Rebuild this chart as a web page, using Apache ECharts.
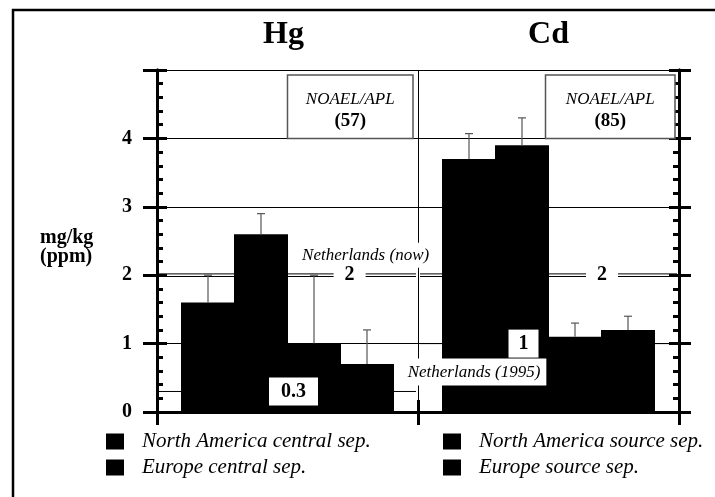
<!DOCTYPE html>
<html><head><meta charset="utf-8">
<script src="https://cdn.jsdelivr.net/npm/echarts@6/dist/echarts.min.js"></script>
<style>html,body{margin:0;padding:0;background:#fff}#c{width:715px;height:497px}</style>
</head><body><div id="c"></div>
<script>
// ---- data ----
const categories = ['Hg', 'Cd'];
const seriesNames = ['North America central sep.', 'Europe central sep.', 'North America source sep.', 'Europe source sep.'];
const naCentral = [1.6, 3.7];
const euCentral = [2.6, 3.9];
const naSource = [1.0, 1.1];
const euSource = [0.7, 1.2];
const naCentralErr = [2.0, 4.07];
const euCentralErr = [2.9, 4.3];
const naSourceErr = [2.0, 1.3];
const euSourceErr = [1.2, 1.4];
const noaelApl = [57, 85];
const nlNow = [2, 2];
const nl1995 = [0.3, 1];
const yTickLabels = ['0', '1', '2', '3', '4', ''];
const yUnit = 'mg/kg\n(ppm)';

// ---- style / layout ----
const FONT = "'Liberation Serif','Times New Roman',serif";
const BAR_STEP = 53;
const L = { boxDx: [0, -3], boxInset: [5, 4], nowFrac: [0.738, 0.705], lowDx: [6, -25] };

const values = [naCentral, euCentral, naSource, euSource];
const errs = [naCentralErr, euCentralErr, naSourceErr, euSourceErr];
const errData = [];
values.forEach((arr, s) => arr.forEach((v, i) => errData.push([i, s, v, errs[s][i]])));
const lineData = categories.map((c, i) => [i, nlNow[i], nl1995[i]]);
const annData = categories.map((c, i) => [i, noaelApl[i], nlNow[i], nl1995[i]]);

const chart = echarts.init(document.getElementById('c'), null, { renderer: 'canvas' });

function xAxisCfg(pos, inside, len, extra) {
  return Object.assign({
    type: 'category', position: pos, data: categories,
    axisLine: { show: true, lineStyle: { color: '#000', width: 3 } },
    axisTick: { show: true, inside: inside, length: len, lineStyle: { color: '#000', width: 3 } },
    axisLabel: { show: false }, splitLine: { show: false }
  }, extra || {});
}
function yAxisCfg(pos, inside, len, extra) {
  return Object.assign({
    type: 'value', position: pos, min: 0, max: 5, interval: 1,
    axisLine: { show: true, lineStyle: { color: '#000', width: 3 } },
    axisTick: { show: true, inside: inside, length: len, lineStyle: { color: '#000', width: 3 } },
    axisLabel: { show: false }, splitLine: { show: false }
  }, extra || {});
}

// bars are 1px wider than their step and overlap by 1px so adjacent black bars merge
const series = seriesNames.map((n, s) => ({
  name: n, type: 'bar', data: values[s], xAxisIndex: 0, yAxisIndex: 0,
  barWidth: BAR_STEP + 1, barGap: (-100 / (BAR_STEP + 1)).toFixed(3) + '%',
  itemStyle: { color: '#000' }, z: 3
}));

series.push({
  type: 'custom', name: 'limits', z: 1, xAxisIndex: 0, yAxisIndex: 0, silent: true,
  encode: { x: 0, y: 1 },
  data: lineData,
  renderItem: function (params, api) {
    const i = api.value(0);
    const w = api.size([1, 0])[0];
    const cN = api.coord([i, api.value(1)]);
    const c95 = api.coord([i, api.value(2)]);
    const x1 = cN[0] - w / 2 + 2, x2 = cN[0] + w / 2 - 2;
    const st = { stroke: '#000', lineWidth: 1 };
    return { type: 'group', children: [
      { type: 'line', shape: { x1: x1, y1: cN[1] - 1.3, x2: x2, y2: cN[1] - 1.3 }, style: st },
      { type: 'line', shape: { x1: x1, y1: cN[1] + 1.3, x2: x2, y2: cN[1] + 1.3 }, style: st },
      { type: 'line', shape: { x1: x1, y1: c95[1], x2: x2, y2: c95[1] }, style: st }
    ]};
  }
});

series.push({
  type: 'custom', name: 'err', z: 5, xAxisIndex: 0, yAxisIndex: 0, silent: true,
  encode: { x: 0, y: 3 },
  data: errData,
  renderItem: function (params, api) {
    const i = api.value(0), s = api.value(1);
    const b = api.coord([i, api.value(2)]);
    const t = api.coord([i, api.value(3)]);
    const x = b[0] + (s - 1.5) * BAR_STEP;
    const st = { stroke: '#555', lineWidth: 1.2 };
    return { type: 'group', children: [
      { type: 'line', shape: { x1: x, y1: b[1], x2: x, y2: t[1] }, style: st },
      { type: 'line', shape: { x1: x - 4, y1: t[1], x2: x + 4, y2: t[1] }, style: st }
    ]};
  }
});

series.push({
  type: 'custom', name: 'ann', z: 10, xAxisIndex: 0, yAxisIndex: 0, silent: true,
  encode: { x: 0, y: 2 },
  data: annData,
  renderItem: function (params, api) {
    const i = api.value(0);
    const w = api.size([1, 0])[0];
    const cx = api.coord([i, 0])[0];
    const y5 = api.coord([i, 5])[1];
    const y4 = api.coord([i, 4])[1];
    const yNow = api.coord([i, api.value(2)])[1];
    const y95 = api.coord([i, api.value(3)])[1];
    const bx1 = cx + L.boxDx[i], bx2 = cx + w / 2 - L.boxInset[i];
    const bcx = (bx1 + bx2) / 2;
    const nowX = cx - w / 2 + L.nowFrac[i] * w;
    const lowX = cx + L.lowDx[i];
    const ch = [
      { type: 'rect', shape: { x: bx1, y: y5 + 5, width: bx2 - bx1, height: y4 - y5 - 5 },
        style: { fill: '#fff', stroke: '#555', lineWidth: 1.5 } },
      { type: 'text', style: { text: 'NOAEL/APL', x: bcx, y: y5 + 30, align: 'center', verticalAlign: 'middle',
        font: 'italic 17px ' + FONT, fill: '#000' } },
      { type: 'text', style: { text: '(' + api.value(1) + ')', x: bcx, y: y5 + 51, align: 'center', verticalAlign: 'middle',
        font: 'bold 19px ' + FONT, fill: '#000' } }
    ];
    if (i === 0) {
      ch.push({ type: 'text', style: { text: 'Netherlands (now)', x: nowX + 16, y: yNow - 20, align: 'center', verticalAlign: 'middle',
        font: 'italic 17px ' + FONT, fill: '#000', backgroundColor: '#fff', padding: [4, 6] } });
    } else {
      ch.push({ type: 'text', style: { text: 'Netherlands (1995)', x: lowX - 49.5, y: y95 + 28.5, align: 'center', verticalAlign: 'middle',
        font: 'italic 17px ' + FONT, fill: '#000', backgroundColor: '#fff', padding: [5, 6] } });
    }
    ch.push(
      { type: 'text', style: { text: String(api.value(2)), x: nowX, y: yNow, align: 'center', verticalAlign: 'middle',
        font: 'bold 20px ' + FONT, fill: '#000', backgroundColor: '#fff', padding: [1, 11] } },
      { type: 'text', style: { text: String(api.value(3)), x: lowX, y: y95, align: 'center', verticalAlign: 'middle',
        font: 'bold 20px ' + FONT, fill: '#000', backgroundColor: '#fff', padding: [4, i === 0 ? 12 : 10] } }
    );
    return { type: 'group', children: ch };
  }
});

const legendText = { fontFamily: FONT, fontStyle: 'italic', fontSize: 21, color: '#000', padding: [0, 0, 0, 13] };

chart.setOption({
  animation: false,
  backgroundColor: '#fff',
  textStyle: { fontFamily: FONT },
  title: { text: yUnit, left: 40, top: 229, padding: 0,
    textStyle: { color: '#000', fontFamily: FONT, fontWeight: 'bold', fontSize: 20, lineHeight: 18.5 } },
  graphic: [{ type: 'rect', shape: { x: 13, y: 10, width: 900, height: 700 }, style: { fill: 'none', stroke: '#000', lineWidth: 2.5 }, z: -1 }],
  grid: { left: 157, right: 36, top: 70, bottom: 85 },
  legend: [
    { data: [seriesNames[0], seriesNames[1]], left: 106, top: 431, orient: 'vertical', itemWidth: 18, itemHeight: 16, itemGap: 5,
      padding: 0, icon: 'rect', selectedMode: false, textStyle: legendText },
    { data: [seriesNames[2], seriesNames[3]], left: 443, top: 431, orient: 'vertical', itemWidth: 18, itemHeight: 16, itemGap: 5,
      padding: 0, icon: 'rect', selectedMode: false, textStyle: legendText }
  ],
  xAxis: [
    xAxisCfg('bottom', false, 13, { splitLine: { show: true, lineStyle: { color: '#000', width: 1 } } }),
    xAxisCfg('bottom', true, 12),
    xAxisCfg('top', false, 12, { axisLabel: { show: true, margin: 19, color: '#000', fontFamily: FONT, fontWeight: 'bold', fontSize: 32,
      formatter: function (v) { return v === 'Hg' ? '{a|' + v + '}' : '{b|' + v + '}'; },
      rich: { a: { fontFamily: FONT, fontWeight: 'bold', fontSize: 32, color: '#000', padding: [0, 8, 0, 0] },
              b: { fontFamily: FONT, fontWeight: 'bold', fontSize: 32, color: '#000' } } } }),
    xAxisCfg('top', true, 12)
  ],
  yAxis: [
    yAxisCfg('left', true, 10, {
      minorTick: { show: true, splitNumber: 5, length: 6, lineStyle: { color: '#000', width: 3 } },
      axisLabel: { show: true, margin: 25, color: '#000', fontFamily: FONT, fontWeight: 'bold', fontSize: 20,
        formatter: function (v) { return yTickLabels[Math.round(v)]; } },
      splitLine: { show: true, lineStyle: { color: ['#000', '#000', 'rgba(0,0,0,0)', '#000', '#000', '#000'], width: 1 } }
    }),
    yAxisCfg('left', false, 14),
    yAxisCfg('right', true, 10, {
      minorTick: { show: true, splitNumber: 5, length: 6, lineStyle: { color: '#000', width: 3 } }
    }),
    yAxisCfg('right', false, 12)
  ],
  series: series
});
</script></body></html>
